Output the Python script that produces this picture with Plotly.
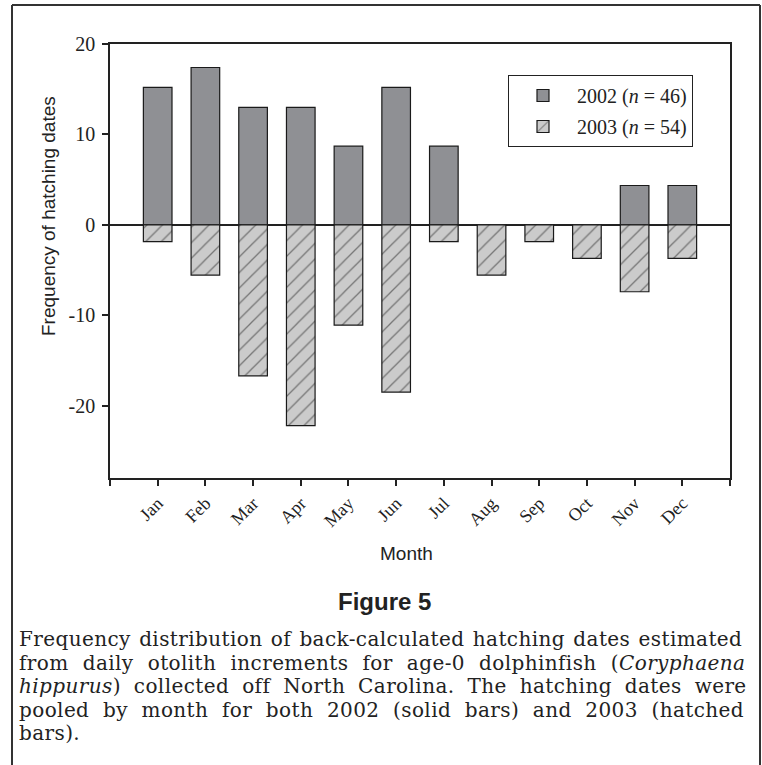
import plotly.graph_objects as go

months = ["Jan", "Feb", "Mar", "Apr", "May", "Jun", "Jul", "Aug", "Sep", "Oct", "Nov", "Dec"]
month_pos = list(range(1, 13))
freq_2002 = [15.2, 17.4, 13.0, 13.0, 8.7, 15.2, 8.7, 0, 0, 0, 4.35, 4.35]
freq_2003 = [-1.85, -5.56, -16.7, -22.2, -11.1, -18.5, -1.85, -5.56, -1.85, -3.7, -7.4, -3.7]
x_tickvals = list(range(0, 14))
x_ticktext = [""] + months + [""]
y_tickvals = [-20, -10, 0, 10, 20]
y_ticktext = ["-20", "-10", "0", "10", "20"]

caption_lines = [
    "Frequency distribution of back-calculated hatching dates estimated",
    "from daily otolith increments for age-0 dolphinfish (<i>Coryphaena</i>",
    "<i>hippurus</i>) collected off North Carolina. The hatching dates were",
    "pooled by month for both 2002 (solid bars) and 2003 (hatched",
    "bars).",
]
# word spacing (px) used to imitate the justified caption
caption_wordspace = [1.6, 7.4, 6.2, 6.9, 0]

W, H = 762, 765
L, R, T, B = 110, 730, 44, 478  # plot area in page pixels

def px(xp):
    return (xp - L) / (R - L)

def py(yp):
    return (B - yp) / (B - T)

fig = go.Figure()
fig.add_trace(go.Bar(
    x=month_pos, y=freq_2002, width=0.6, name="2002 (<i>n</i> = 46)",
    marker=dict(color="#8f9094", line=dict(color="#1a1a1a", width=1.2)),
    legendgroup="a",
))
fig.add_trace(go.Bar(
    x=month_pos, y=freq_2003, width=0.6, name="2003 (<i>n</i> = 54)",
    marker=dict(color="#cbcbcb", line=dict(color="#1a1a1a", width=1.2),
                pattern=dict(shape="/", fgcolor="#222222", size=11, solidity=0.12)),
    legendgroup="b",
))

serif = "Liberation Serif, Times New Roman, serif"
sans = "Liberation Sans, Arial, sans-serif"

fig.update_layout(
    width=W, height=H,
    margin=dict(l=L, r=W - R, t=T, b=H - B),
    paper_bgcolor="white", plot_bgcolor="white",
    barmode="relative",
    showlegend=True,
    legend=dict(x=px(508), y=py(75), xanchor="left", yanchor="top",
                bordercolor="#222222", borderwidth=1, bgcolor="white",
                font=dict(family=serif, size=20, color="#222222"),
                tracegroupgap=2, itemwidth=58),
    font=dict(family=serif, color="#222222"),
)
fig.update_xaxes(
    range=[0, 13], tickmode="array", tickvals=x_tickvals, ticktext=x_ticktext,
    tickangle=-45, ticks="outside", ticklen=6, tickwidth=1.5, tickcolor="#222222",
    showline=True, linecolor="#222222", linewidth=1.5, mirror=True,
    showgrid=False, zeroline=False,
    tickfont=dict(family=serif, size=18, color="#222222"),
)
fig.update_yaxes(
    range=[-28, 20], tickmode="array", tickvals=y_tickvals, ticktext=y_ticktext,
    ticks="outside", ticklen=6, tickwidth=1.5, tickcolor="#222222",
    showline=True, linecolor="#222222", linewidth=1.5, mirror=True,
    showgrid=False, zeroline=True, zerolinecolor="#222222", zerolinewidth=1.5,
    tickfont=dict(family=serif, size=20, color="#222222"),
    ticklabelstandoff=3,
)

annotations = [
    dict(x=px(49), y=py(216), xref="paper", yref="paper", text="Frequency of hatching dates",
         textangle=-90, showarrow=False, font=dict(family=sans, size=19, color="#222222"),
         xanchor="center", yanchor="middle"),
    dict(x=px(406), y=py(553), xref="paper", yref="paper", text="Month",
         showarrow=False, font=dict(family=sans, size=19, color="#222222"),
         xanchor="center", yanchor="middle"),
    dict(x=px(384), y=py(601), xref="paper", yref="paper", text="<b>Figure 5</b>",
         showarrow=False, font=dict(family=sans, size=24, color="#222222"),
         xanchor="center", yanchor="middle"),
]
y0 = 639
for i, line in enumerate(caption_lines):
    styled = '<span style="letter-spacing:0.4px;word-spacing:%.1fpx">%s</span>' % (caption_wordspace[i], line)
    annotations.append(dict(
        x=px(17), y=py(y0 + i * 23.5), xref="paper", yref="paper", text=styled,
        showarrow=False, font=dict(family="DejaVu Serif, serif", size=20, color="#222222"),
        xanchor="left", yanchor="middle", align="left"))
fig.update_layout(annotations=annotations)

# outer figure frame (no bottom edge)
frame = dict(type="line", xref="paper", yref="paper", line=dict(color="#333333", width=2))
fig.add_shape(**frame, x0=px(12), y0=py(5), x1=px(12), y1=py(765))
fig.add_shape(**frame, x0=px(12), y0=py(5), x1=px(760), y1=py(5))
fig.add_shape(**frame, x0=px(760), y0=py(5), x1=px(760), y1=py(765))

fig.write_html(
    "out.html",
    config={"displayModeBar": False},
    post_script="document.body.style.margin='0';document.body.style.overflow='hidden';",
)
